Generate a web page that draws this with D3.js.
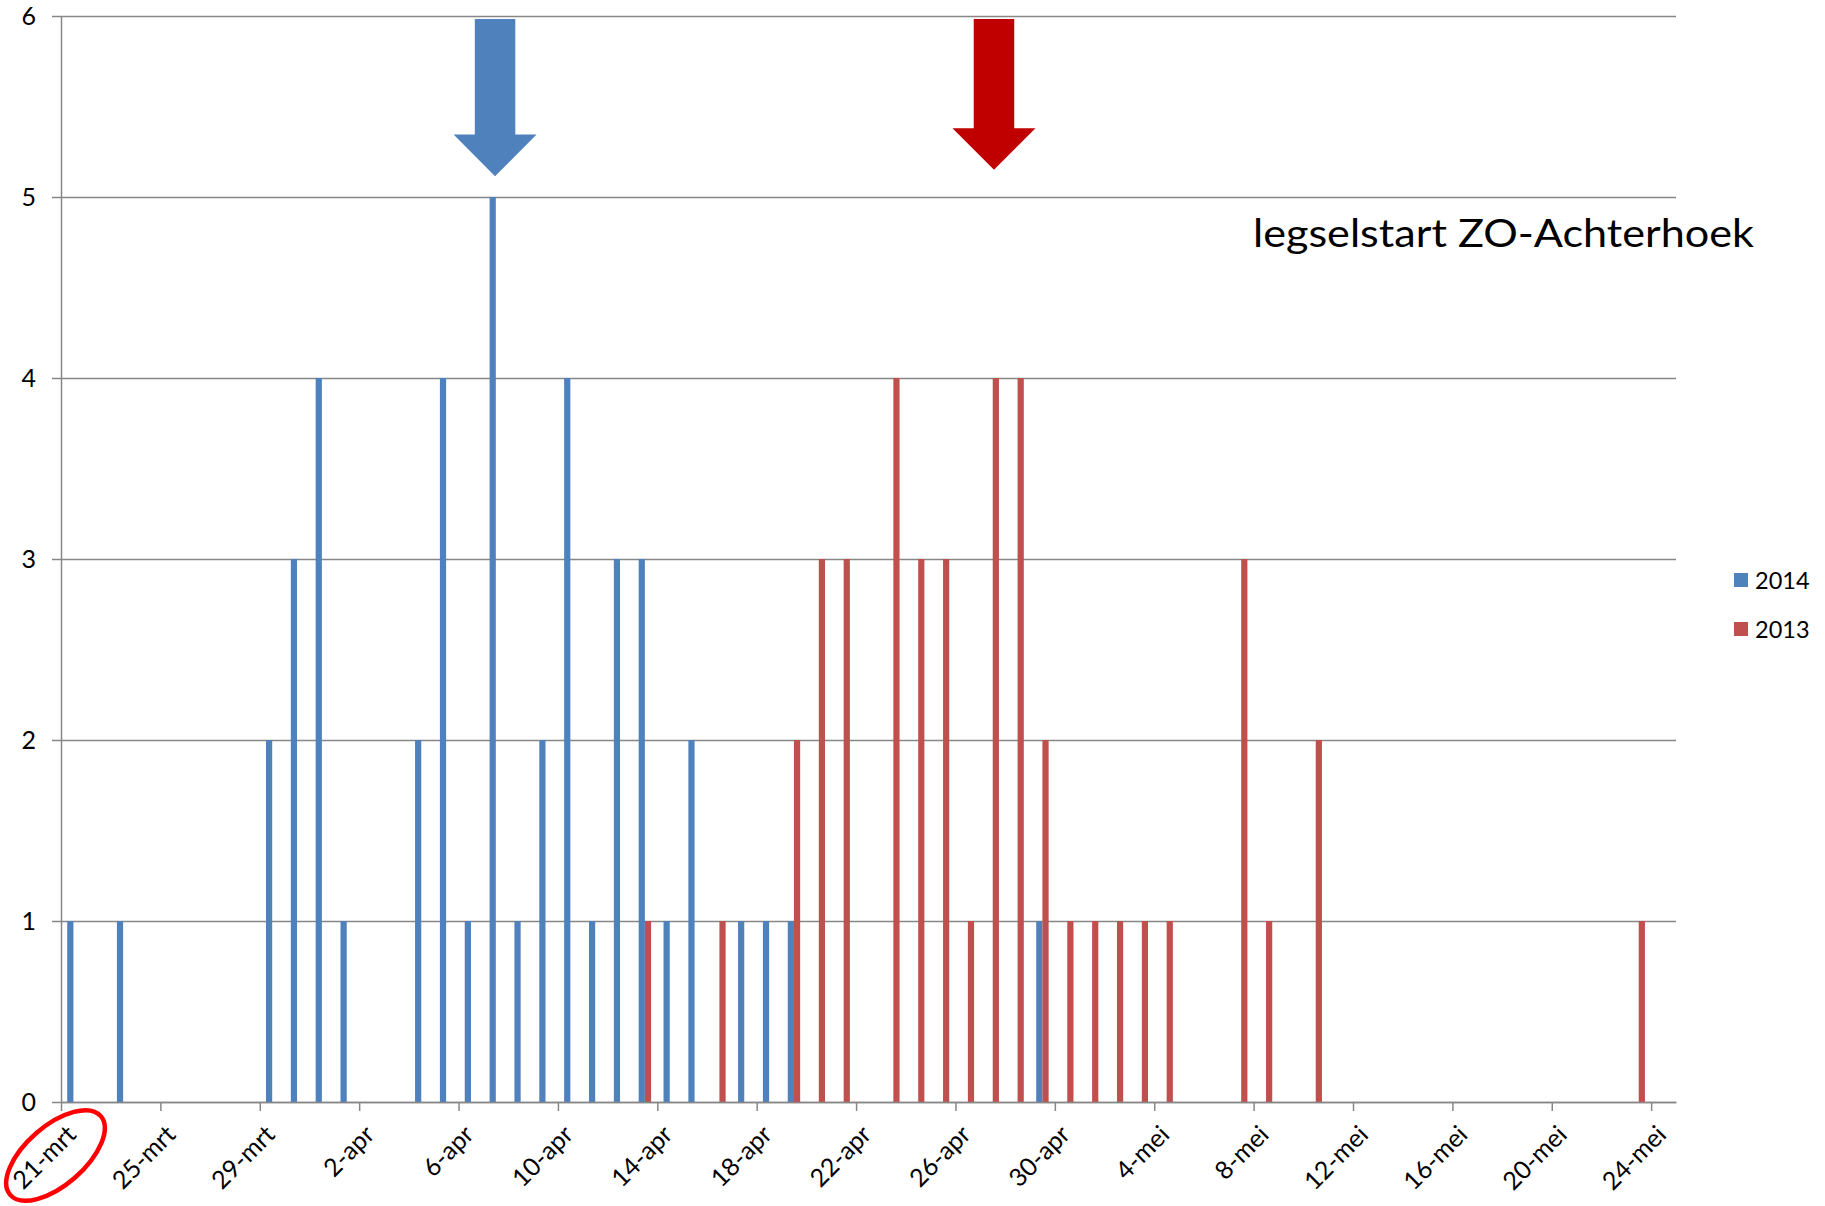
<!DOCTYPE html>
<html>
<head>
<meta charset="utf-8">
<script src="https://cdn.jsdelivr.net/npm/d3@7"></script>
<style>
  html, body { margin: 0; padding: 0; background: #ffffff; }
  svg { display: block; font-family: Lato, "Open Sans", sans-serif; }
</style>
</head>
<body>
<svg id="chart" width="1825" height="1206"></svg>
<script>
// ---------- data ----------
const firstDay = "21-mrt";
const lastDay = "24-mei";
const tickLabels = ["21-mrt","25-mrt","29-mrt","2-apr","6-apr","10-apr","14-apr","18-apr",
                    "22-apr","26-apr","30-apr","4-mei","8-mei","12-mei","16-mei","20-mei","24-mei"];
const yTicks = [0, 1, 2, 3, 4, 5, 6];
const seriesNames = ["2014", "2013"];
const seriesColors = ["#4F81BD", "#C0504D"];

const dates2014 = ["21-mrt","23-mrt","29-mrt","30-mrt","31-mrt","1-apr","4-apr","5-apr","6-apr","7-apr",
                   "8-apr","9-apr","10-apr","11-apr","12-apr","13-apr","14-apr","15-apr","17-apr","18-apr",
                   "19-apr","29-apr"];
const values2014 = [1,1,2,3,4,1,2,4,1,5,1,2,4,1,3,3,1,2,1,1,1,1];

const dates2013 = ["13-apr","16-apr","19-apr","20-apr","21-apr","23-apr","24-apr","25-apr","26-apr","27-apr",
                   "28-apr","29-apr","30-apr","1-mei","2-mei","3-mei","4-mei","7-mei","8-mei","10-mei","23-mei"];
const values2013 = [1,1,2,3,3,4,3,3,1,4,4,2,1,1,1,1,1,3,1,2,1];

const titleText = "legselstart ZO-Achterhoek";
// annotation arrows
const arrowDates = ["7-apr", "27-apr"];
const arrowColors = ["#4F81BD", "#C00000"];
const arrowTips = [5.115, 5.15];

(function () {
// ---------- helpers ----------
const monthIdx = { "mrt": 2, "apr": 3, "mei": 4 };
function parseDay(s) {
  const [d, m] = s.split("-");
  return new Date(2014, monthIdx[m], +d);
}

// ---------- layout ----------
const svg = d3.select("#chart");
const pLeft = 61, pRight = 1676, pTop = 16, pBottom = 1102;

const x = d3.scaleTime()
  .domain([parseDay(firstDay), d3.timeDay.offset(parseDay(lastDay), 1)])
  .range([pLeft, pRight]);
const dayW = x(d3.timeDay.offset(parseDay(firstDay), 1)) - x(parseDay(firstDay));
const sub = d3.scaleBand().domain(seriesNames).range([0, dayW]).paddingInner(0).paddingOuter(1);

const y = d3.scaleLinear().domain([0, 6]).range([pBottom, pTop]);

const gridColor = "#878787";

// gridlines
const grid = svg.append("g")
  .attr("transform", `translate(${pLeft},0)`)
  .call(d3.axisLeft(y).tickValues(yTicks).tickSize(-(pRight - pLeft)).tickFormat(""));
grid.select(".domain").remove();
grid.selectAll("line").attr("stroke", gridColor).attr("stroke-width", 1.5);

// y axis
const yAxis = svg.append("g")
  .attr("transform", `translate(${pLeft},0)`)
  .call(d3.axisLeft(y).tickValues(yTicks).tickSize(9).tickSizeOuter(0).tickPadding(16).tickFormat(d3.format("d")));
yAxis.select(".domain").attr("stroke", gridColor).attr("stroke-width", 1.5);
yAxis.selectAll("line").attr("stroke", gridColor).attr("stroke-width", 1.5);
yAxis.selectAll("text").attr("font-size", 25).attr("fill", "#000").attr("font-family", "Lato, sans-serif");

// bars
const series = [
  { name: seriesNames[0], color: seriesColors[0], dates: dates2014, values: values2014 },
  { name: seriesNames[1], color: seriesColors[1], dates: dates2013, values: values2013 }
];
series.forEach(s => {
  const pts = s.dates.map((d, i) => ({ date: parseDay(d), value: s.values[i] }));
  svg.append("g").selectAll("rect").data(pts).join("rect")
    .attr("x", d => x(d.date) + sub(s.name))
    .attr("width", sub.bandwidth())
    .attr("y", d => y(d.value))
    .attr("height", d => y(0) - y(d.value))
    .attr("fill", s.color);
});

// x axis
const xAxis = svg.append("g")
  .attr("transform", `translate(0,${pBottom})`)
  .call(d3.axisBottom(x).tickValues(tickLabels.map(parseDay)).tickSize(9).tickSizeOuter(0)
        .tickFormat((d, i) => tickLabels[i]));
xAxis.select(".domain").attr("stroke", gridColor).attr("stroke-width", 1.5);
xAxis.selectAll("line").attr("stroke", gridColor).attr("stroke-width", 1.5);
xAxis.selectAll("text")
  .attr("font-size", 25).attr("fill", "#000").attr("font-family", "Lato, sans-serif")
  .attr("x", 0).attr("y", 0).attr("dy", "0.35em")
  .attr("text-anchor", "end")
  .attr("transform", "translate(10,28) rotate(-45)");

// arrows
const shaftW = 40.5, headW = 83, headH = 41.6;
arrowDates.forEach((d, i) => {
  const cx = x(parseDay(d)) + dayW * (i === 0 ? 0.47 : 0.55);
  const yTop = y(6) + 3;
  const yTip = y(arrowTips[i]);
  const yNeck = yTip - headH;
  const path = d3.path();
  path.moveTo(cx - shaftW / 2, yTop);
  path.lineTo(cx + shaftW / 2, yTop);
  path.lineTo(cx + shaftW / 2, yNeck);
  path.lineTo(cx + headW / 2, yNeck);
  path.lineTo(cx, yTip);
  path.lineTo(cx - headW / 2, yNeck);
  path.lineTo(cx - shaftW / 2, yNeck);
  path.closePath();
  svg.append("path").attr("d", path.toString()).attr("fill", arrowColors[i]);
});

// title annotation
svg.append("text")
  .attr("x", 1253).attr("y", 247)
  .attr("font-size", 38).attr("fill", "#000")
  .attr("textLength", 501).attr("lengthAdjust", "spacingAndGlyphs")
  .text(titleText);

// legend
const legend = svg.append("g").attr("transform", "translate(1734,573)");
seriesNames.forEach((n, i) => {
  const g = legend.append("g").attr("transform", `translate(0,${i * 49})`);
  g.append("rect").attr("width", 14).attr("height", 14).attr("fill", seriesColors[i]);
  g.append("text").attr("x", 21).attr("y", 15.5).attr("font-size", 23.5).attr("fill", "#000").text(n);
});

// red ellipse around first label
const ex = x(parseDay(firstDay)) - 5.5, ey = y(0) + 53.5;
svg.append("ellipse")
  .attr("cx", ex).attr("cy", ey)
  .attr("rx", 60).attr("ry", 29.5)
  .attr("transform", `rotate(-41,${ex},${ey})`)
  .attr("fill", "none").attr("stroke", "#FF0000").attr("stroke-width", 4.5);
})();
</script>
</body>
</html>
